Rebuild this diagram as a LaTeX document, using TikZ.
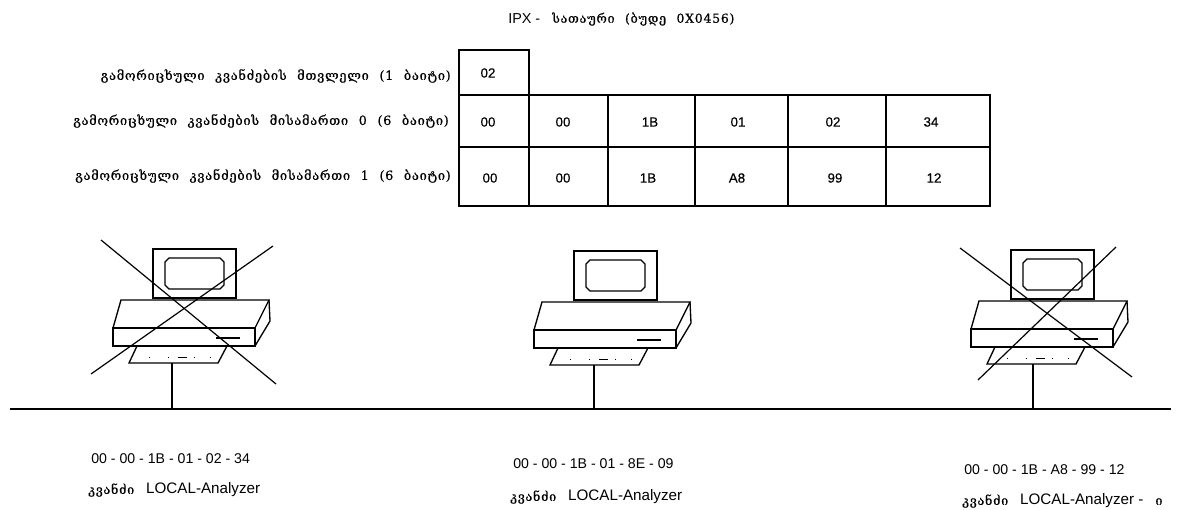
\documentclass[tikz,border=0pt]{standalone}
\usepackage{fontspec}
\setmainfont{Liberation Sans}
\newfontfamily\geo[LetterSpace=6.5,WordSpace=2.2,FakeBold=0.7]{DejaVu Serif}
\newfontfamily\num[FakeBold=0.4]{Liberation Sans}
\tikzset{x=0.75pt,y=-0.75pt,
 lab/.style={font=\geo\fontsize{9.5}{11}\selectfont,anchor=east,inner sep=0,text=black},
 cell/.style={font=\num\fontsize{10}{12}\selectfont,inner sep=0,text=black},
 addr/.style={font=\fontsize{10.6}{12}\selectfont,inner sep=0,anchor=west,text=black},
 nm/.style={font=\fontsize{11.4}{12}\selectfont,inner sep=0,anchor=west,text=black},
 tbl/.style={line width=1.3pt},
 pc/.style={line width=1pt},
 cross/.style={line width=0.9pt}}
\newcommand{\gk}[1]{{\geo\fontsize{9.3}{10}\selectfont #1}}
\newcommand{\pcdraw}[3]{%
 \begin{scope}[shift={(#1,#2)}]
 \draw[pc] (-20,249) rectangle (63,298);
 \draw[pc,line width=1.4pt] (-20,298) -- (63,298);
 \draw[pc] (-4,258) -- (47,258) -- (51,262) -- (51,285) -- (47,289) -- (-4,289) -- (-8,285) -- (-8,262) -- cycle;
 \draw[pc] (-60,328) -- (-52,300) -- (96,300) -- (82,328) -- cycle;
 \draw[pc] (-60,328) rectangle (82,346);
 \draw[pc] (82,346) -- (97,321) -- (96,300);
 \draw[pc] (-36,346) -- (-44,363) -- (45,363) -- (54,346);
 \draw[pc] (43,338) -- (67,338);
 \draw[line width=.7pt] (-24,357) -- (-23.4,357) (-5,357)--(-4,357) (5,357)--(14,357) (21,357)--(22,357) (37,357)--(38,357);
 \coordinate (#3) at (-1,363);
 \end{scope}}
\begin{document}
\begin{tikzpicture}
\useasboundingbox (0,0) rectangle (1179,510);
\node[inner sep=0,anchor=west,font=\fontsize{10.8}{12}\selectfont] (title) at (508,19) {IPX -};
\node[inner sep=0,anchor=west,font=\geo\fontsize{9.3}{11}\selectfont] (titleb) at (552,19) {სათაური (ბუდე 0X0456)};
\node[lab] (l1) at (451,76) {გამორიცხული კვანძების მთვლელი (1 ბაიტი)};
\node[lab] (l2) at (449,121) {გამორიცხული კვანძების მისამართი 0 (6 ბაიტი)};
\node[lab] (l3) at (451,176) {გამორიცხული კვანძების მისამართი 1 (6 ბაიტი)};
\draw[tbl] (459,50) rectangle (529,95);
\draw[tbl] (459,95) rectangle (990,206);
\draw[tbl] (459,147) -- (990,147);
\foreach \xx in {529,608,695,788,886} \draw[tbl] (\xx,95) -- (\xx,206);
\node[cell] (c1) at (488,73) {02};
\foreach \xx/\t [count=\i] in {488/00,563/00,650/1B,738/01,833/02,931/34} \node[cell] (a\i) at (\xx,122) {\t};
\foreach \xx/\t [count=\i] in {490/00,563/00,648/1B,737/A8,835/99,934/12} \node[cell] (b\i) at (\xx,178) {\t};
\coordinate (ls) at (10,409); \coordinate (le) at (1171,409);
\draw[line width=1.1pt] (ls) -- (le);
\pcdraw{173}{0}{k1}\pcdraw{594}{2}{k2}\pcdraw{1031}{1}{k3}
\coordinate (t1) at (172,409); \coordinate (t2) at (594,409); \coordinate (t3) at (1033,409);
\draw[pc] (t1 |- k1) -- (t1); \draw[pc] (t2 |- k2) -- (t2); \draw[pc] (t3 |- k3) -- (t3);
\draw[cross] (101,240) -- (276,384); \draw[cross] (91,374) -- (273,246);
\draw[cross] (960,248) -- (1132,377); \draw[cross] (978,380) -- (1116,247);
\node[addr] (m1) at (91,459) {00 - 00 - 1B - 01 - 02 - 34};
\node[nm] (n1) at (88,490) {\gk{კვანძი}\hspace{9pt}LOCAL-Analyzer};
\node[addr] (m2) at (513,464) {00 - 00 - 1B - 01 - 8E - 09};
\node[nm] (n2) at (510,497) {\gk{კვანძი}\hspace{9pt}LOCAL-Analyzer};
\node[addr] (m3) at (964,470) {00 - 00 - 1B - A8 - 99 - 12};
\node[nm] (n3) at (962,501) {\gk{კვანძი}\hspace{9pt}LOCAL-Analyzer -\hspace{9pt}\gk{ი}};
\end{tikzpicture}
\end{document}
